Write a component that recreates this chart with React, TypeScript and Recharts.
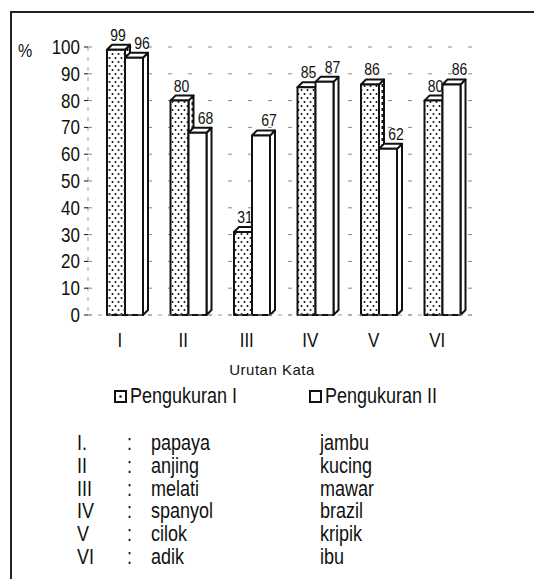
import { Bar, BarChart, CartesianGrid, LabelList, Legend, XAxis, YAxis } from "recharts"

const categories = ["I", "II", "III", "IV", "V", "VI"]
const pengukuranI = [99, 80, 31, 85, 86, 80]
const pengukuranII = [96, 68, 67, 87, 62, 86]
const yTicks = [0, 10, 20, 30, 40, 50, 60, 70, 80, 90, 100]
const tableRoman = ["I.", "II", "III", "IV", "V", "VI"]
const wordsI = ["papaya", "anjing", "melati", "spanyol", "cilok", "adik"]
const wordsII = ["jambu", "kucing", "mawar", "brazil", "kripik", "ibu"]
const seriesNames = ["Pengukuran I", "Pengukuran II"]

const data = categories.map((cat, i) => ({
  cat,
  p1: pengukuranI[i],
  p2: pengukuranII[i],
}))

const SANS = '"Liberation Sans", Arial, sans-serif'
const INK = "#111"
const DX = 5
const DY = 5
// scanned text looks a bit taller than plain Arial
const TALL = 1.2

function Bar3D(props: any) {
  const { x, y, width, height, dotted } = props
  if (height == null || height <= 0) return null
  const front = dotted ? "url(#dots)" : "#fff"
  const side = dotted ? "url(#vdash)" : "#fff"
  return (
    <g stroke={INK} strokeWidth={2} strokeLinejoin="round">
      <polygon
        points={`${x + width},${y} ${x + width + DX},${y - DY} ${x + width + DX},${y + height - DY} ${x + width},${y + height}`}
        fill={side}
      />
      <polygon
        points={`${x},${y} ${x + DX},${y - DY} ${x + width + DX},${y - DY} ${x + width},${y}`}
        fill="#fff"
      />
      <rect x={x} y={y} width={width} height={height} fill={front} />
    </g>
  )
}

function TallText({ x, y, anchor = "middle", size, children }: any) {
  return (
    <text
      transform={`translate(${x} ${y}) scale(1 ${TALL})`}
      textAnchor={anchor}
      dominantBaseline="central"
      fontFamily={SANS}
      fontSize={size}
      fill={INK}
    >
      {children}
    </text>
  )
}

function valueLabel(shift: number) {
  return (p: any) => (
    <TallText x={p.x + p.width / 2 + shift} y={p.y - 15} size={14}>
      {p.value}
    </TallText>
  )
}

function YTick(p: any) {
  return (
    <TallText x={p.x} y={p.y} anchor="end" size={17}>
      {p.payload.value}
    </TallText>
  )
}

function XTick(p: any) {
  return (
    <TallText x={p.x - 5} y={p.y + 25} size={17}>
      {p.payload.value}
    </TallText>
  )
}

function LegendBox({ dotted }: { dotted: boolean }) {
  return (
    <svg width={13} height={13} style={{ display: "block" }}>
      <rect x={1} y={1} width={11} height={11} fill="#fff" stroke={INK} strokeWidth={2} />
      {dotted && <circle cx={6.5} cy={6.5} r={1.3} fill={INK} />}
    </svg>
  )
}

function LegendContent() {
  const lefts = [114, 309]
  return (
    <div style={{ position: "relative", width: 534, height: 22 }}>
      {seriesNames.map((name, i) => (
        <div
          key={name}
          style={{
            position: "absolute",
            left: lefts[i],
            top: 0,
            height: 22,
            display: "flex",
            alignItems: "center",
            gap: 3,
            fontFamily: SANS,
            fontSize: 18,
            color: INK,
          }}
        >
          <LegendBox dotted={i === 0} />
          <span style={{ display: "inline-block", transform: `scaleY(${TALL})` }}>{name}</span>
        </div>
      ))}
    </div>
  )
}

export default function App() {
  return (
    <div style={{ position: "absolute", left: 0, top: 0, width: 534, height: 579, background: "#fff" }}>
      <div
        style={{
          position: "absolute",
          left: 10,
          top: 11,
          right: 0,
          bottom: 0,
          borderTop: "2px solid #222",
          borderLeft: "2px solid #222",
        }}
      />
      <div style={{ position: "absolute", left: 0, top: 0 }}>
        <BarChart
          width={534}
          height={410}
          data={data}
          margin={{ top: 47, right: 60, left: 28, bottom: 3 }}
          barGap={0}
        >
          <defs>
            <pattern id="dots" width={6} height={8} patternUnits="userSpaceOnUse">
              <rect width={6} height={8} fill="#fff" />
              <circle cx={1.5} cy={2} r={1} fill={INK} />
              <circle cx={4.5} cy={6} r={1} fill={INK} />
            </pattern>
            <pattern id="vdash" width={5} height={6} patternUnits="userSpaceOnUse">
              <rect width={5} height={6} fill="#fff" />
              <rect x={1.5} y={0} width={2} height={3} fill={INK} />
            </pattern>
          </defs>
          <CartesianGrid vertical={false} stroke="#888" strokeDasharray="4 16" />
          <XAxis
            dataKey="cat"
            height={70}
            padding={{ left: 5, right: 0 }}
            tickLine={false}
            tickSize={0}
            tickMargin={0}
            axisLine={{ stroke: "#999", strokeDasharray: "4 6" }}
            tick={<XTick />}
            interval={0}
            label={{
              content: (p: any) => (
                <text
                  x={272}
                  y={p.viewBox.y + 54}
                  textAnchor="middle"
                  dominantBaseline="central"
                  fontFamily={SANS}
                  fontSize={15}
                  letterSpacing={0.5}
                  fill={INK}
                >
                  Urutan Kata
                </text>
              ),
            }}
          />
          <YAxis
            width={60}
            domain={[0, 100]}
            ticks={yTicks}
            interval={0}
            tickSize={4}
            tickMargin={4}
            tickLine={{ stroke: INK }}
            axisLine={{ stroke: "#999", strokeDasharray: "4 6" }}
            tick={<YTick />}
            label={{
              content: () => (
                <TallText x={25} y={50} size={16}>
                  %
                </TallText>
              ),
            }}
          />
          <Legend verticalAlign="bottom" height={22} wrapperStyle={{ left: 0, width: 534, bottom: 3 }} content={<LegendContent />} />
          <Bar dataKey="p1" name={seriesNames[0]} barSize={18} isAnimationActive={false} shape={(p: any) => <Bar3D {...p} dotted />}>
            <LabelList dataKey="p1" content={valueLabel(2)} />
          </Bar>
          <Bar dataKey="p2" name={seriesNames[1]} barSize={18} isAnimationActive={false} shape={(p: any) => <Bar3D {...p} />}>
            <LabelList dataKey="p2" content={valueLabel(8)} />
          </Bar>
        </BarChart>
      </div>
      {tableRoman.map((r, i) => {
        const top = 432 + i * 22.8
        const cell = {
          position: "absolute" as const,
          top,
          lineHeight: "22px",
          fontFamily: SANS,
          fontSize: 18,
          color: INK,
          transform: `scaleY(${TALL})`,
        }
        return (
          <div key={r}>
            <div style={{ ...cell, left: 77 }}>{r}</div>
            <div style={{ ...cell, left: 127 }}>:</div>
            <div style={{ ...cell, left: 151 }}>{wordsI[i]}</div>
            <div style={{ ...cell, left: 320 }}>{wordsII[i]}</div>
          </div>
        )
      })}
    </div>
  )
}
